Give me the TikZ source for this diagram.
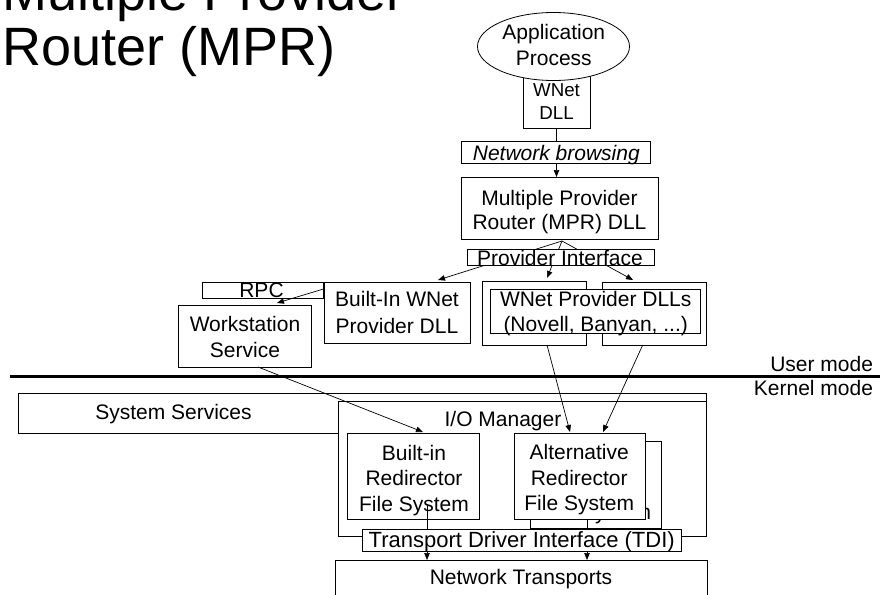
\documentclass[tikz,border=0pt]{standalone}
\usepackage{fontspec}
\setmainfont{Liberation Sans}
\usetikzlibrary{shapes.geometric,arrows.meta}
\newcommand{\mlines}[1]{\begin{tabular}[t]{@{}c@{}}#1\end{tabular}}
\begin{document}
\begin{tikzpicture}[x=1pt,y=-1pt,
  box/.style={draw=black,line width=0.8pt,fill=white,inner sep=0pt,outer sep=0pt},
  txt/.style={inner sep=0pt,outer sep=0pt,anchor=base,font=\fontsize{21}{25}\selectfont},
  ttl/.style={inner sep=0pt,outer sep=0pt,anchor=base west,font=\fontsize{54}{54}\selectfont},
  arr/.style={line width=0.7pt,-{Triangle[length=7pt,width=5.5pt]}},
  ln/.style={line width=0.7pt}]
\useasboundingbox (0,0) rectangle (880,594);
\clip (0,0) rectangle (880,594);

% title
\node[ttl] (title1) at (2.7,11) {Multiple Provider};
\node[ttl] (title2) at (2.7,65) {Router (MPR)};

% application + WNet DLL
\node[box,minimum width=67,minimum height=54] (wnet) at (556.5,101) {};
\node[box,ellipse,minimum width=152,minimum height=68] (app) at (553.5,46.5) {};
\node[txt,font=\fontsize{21}{25.7}\selectfont] (appt) at (553.8,39.3) {\mlines{Application\\Process}};
\node[txt,font=\fontsize{18.7}{22.3}\selectfont] (wnett) at (556.5,96.7) {\mlines{WNet\\DLL}};

% network browsing
\node[box,minimum width=189,minimum height=22] (browse) at (555.5,152) {};
\node[txt,font=\fontsize{21}{25}\itshape] (browset) at (556.3,160.5) {Network browsing};
\draw[ln] (wnet.south) -- (wnet.south |- browse.north);

% MPR
\node[box,minimum width=197,minimum height=62] (mpr) at (559.5,208) {};
\node[txt,font=\fontsize{21}{24.3}\selectfont] (mprt) at (559.5,205) {\mlines{Multiple Provider\\Router (MPR) DLL}};
\draw[arr] (wnet.south |- browse.south) -- (wnet.south |- mpr.north);

% provider interface + arrows
\coordinate (apex) at (562,241);
\coordinate (p1) at (438,280);
\coordinate (p2) at (547,278);
\coordinate (p3) at (633,280);
\draw[arr] (apex) -- (p1);
\draw[arr] (apex) -- (p2);
\draw[arr] (apex) -- (p3);
\node[box,minimum width=187,minimum height=16] (pi) at (560.5,257) {};
\node[txt] (pit) at (560,265) {Provider Interface};

% RPC, Built-in WNet, Workstation
\node[box,minimum width=121,minimum height=16] (rpc) at (262.5,290) {};
\node[txt] (rpct) at (261.5,297.7) {RPC};
\node[box,minimum width=146,minimum height=61] (bwnet) at (397,312.5) {};
\node[txt,font=\fontsize{21}{27}\selectfont] (bwnett) at (397,306) {\mlines{Built-In WNet\\Provider DLL}};
\node[box,minimum width=133,minimum height=62] (ws) at (244.5,336) {};
\node[txt,font=\fontsize{21}{25.6}\selectfont] (wst) at (245,331.7) {\mlines{Workstation\\Service}};
\coordinate (a4s) at (323.5,289);
\coordinate (a4e) at (277,303);
\draw[arr] (a4s) -- (a4e);

% WNet provider DLLs
\node[box,minimum width=104,minimum height=63.3] (bk1) at (534.7,313.4) {};
\node[box,minimum width=104.7,minimum height=63] (bk2) at (654.4,313.5) {};
\node[box,minimum width=210,minimum height=44] (wp) at (595.7,311) {};
\node[txt,font=\fontsize{21}{25}\selectfont] (wpt) at (595.7,306.7) {\mlines{WNet Provider DLLs\\(Novell, Banyan, ...)}};

% mode line
\coordinate (ml1) at (10,376.7);
\coordinate (ml2) at (880,376.7);
\draw[line width=3.3pt] (ml1) -- (ml2);
\node[txt,anchor=base east] (um) at (873,371.7) {User mode};
\node[txt,anchor=base east] (km) at (873,395) {Kernel mode};

% kernel side
\node[box,minimum width=688.7,minimum height=40] (sys) at (362.35,413) {};
\node[txt] (syst) at (173.5,419.3) {System Services};
\node[box,minimum width=368.7,minimum height=135] (io) at (522.35,469.2) {};
\node[txt] (iot) at (503,426) {I/O Manager};
\node[box,minimum width=132,minimum height=86] (bir) at (413,476) {};
\node[txt,font=\fontsize{21}{25.9}\selectfont] (birt) at (414,460) {\mlines{Built-in\\Redirector\\File System}};
\node[box,minimum width=131.7,minimum height=86.3] (altb) at (595.9,484.9) {};
\node[txt,font=\fontsize{21}{25.7}\selectfont] (altbt) at (596.2,468.5) {\mlines{Alternative\\Redirector\\File System}};
\node[box,minimum width=131,minimum height=86] (alt) at (579.5,476) {};
\node[txt,font=\fontsize{21}{25.7}\selectfont] (altt) at (579.2,459.3) {\mlines{Alternative\\Redirector\\File System}};

% network transports
\node[box,minimum width=372,minimum height=60] (nt) at (521,590) {};
\node[txt] (ntt) at (521,584) {Network Transports};
\coordinate (a8s) at (427,505);
\draw[arr] (a8s) -- (a8s |- nt.north);
\draw[arr] (alt.south -| 587,0) -- (nt.north -| 587,0);
\node[box,minimum width=319.7,minimum height=22.5] (tdi) at (521.85,540.3) {};
\node[txt,font=\fontsize{22}{26}\selectfont] (tdit) at (521.7,547.5) {Transport Driver Interface (TDI)};

% cross-boundary arrows
\coordinate (a5s) at (258,367);
\coordinate (a5e) at (423,432);
\draw[arr] (a5s) -- (a5e);
\coordinate (a6s) at (547,345);
\coordinate (a6e) at (570,432);
\draw[arr] (a6s) -- (a6e);
\coordinate (a7s) at (642.7,345);
\coordinate (a7e) at (603,432);
\draw[arr] (a7s) -- (a7e);
\end{tikzpicture}
\end{document}
